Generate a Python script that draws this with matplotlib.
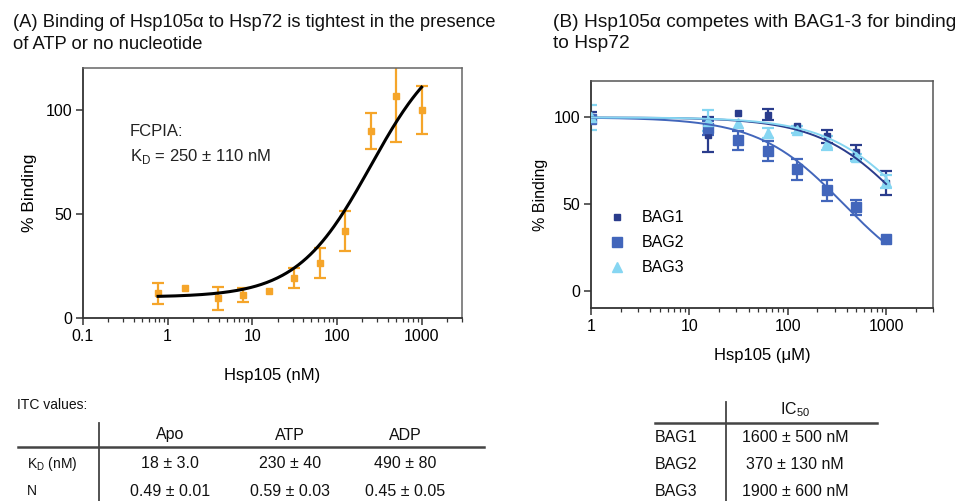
# -*- coding: utf-8 -*-
import numpy as np
import matplotlib.pyplot as plt
from matplotlib import ticker
from matplotlib.lines import Line2D

plt.rcParams['font.family'] = ['Liberation Sans', 'DejaVu Sans']

W, H = 979, 501

# (A) FCPIA titration of Hsp105a into Hsp72
hsp105_nm = [0.77, 1.6, 3.9, 7.8, 15.6, 31.25, 62.5, 125, 250, 500, 1000]
binding_a = [11.9, 14.3, 9.5, 11.0, 13.0, 19.0, 26.3, 42.0, 89.6, 106.4, 100.0]
binding_a_err = [5.0, 0, 5.5, 3.5, 0, 4.8, 7.2, 9.6, 8.7, 22.0, 11.6]
fit_bottom, fit_top = 10, 136
kd_nm, kd_err = 250, 110

# ITC table
itc_conditions = ['Apo', 'ATP', 'ADP']
itc_kd = ['18 ± 3.0', '230 ± 40', '490 ± 80']
itc_n = ['0.49 ± 0.01', '0.59 ± 0.03', '0.45 ± 0.05']

# (B) competition of Hsp105 with BAG1-3
hsp105_um = [1, 15.6, 31.25, 62.5, 125, 250, 500, 1000]
bag_names = ['BAG1', 'BAG2', 'BAG3']
bag_binding = [
    [100, 90, 102.5, 101.6, 95, 89, 80, 62],
    [99, 94, 86.7, 80.6, 70, 58, 48, 29.6],
    [100, 98, 96.8, 91, 93, 85, 77, 63],
]
bag_err = [
    [3, 10, 0, 3, 0, 4, 4, 7],
    [2, 4, 5.3, 5.7, 6, 6, 4.3, 0],
    [7, 6, 0, 3, 2, 4, 2, 4],
]
ic50_nm = [1600, 370, 1900]
ic50_err = [500, 130, 600]

ORANGE = '#f5a52a'
BAG_COLORS = ['#2a3c8c', '#4266bb', '#86d6f2']
BAG_MARKERS = [('s', 4), ('s', 7), ('^', 7)]
SPINE = '#333333'


def px(x, y):
    """pixel position -> figure fraction"""
    return x / W, 1 - y / H


def _style_axes(ax, side_color):
    for s in ['left', 'bottom']:
        ax.spines[s].set_color(SPINE)
        ax.spines[s].set_linewidth(1.3)
    for s in ['top', 'right']:
        ax.spines[s].set_color(side_color)
        ax.spines[s].set_linewidth(1.1)
    ax.tick_params(which='major', direction='out', length=5, width=1.1, color=SPINE,
                   labelsize=11.5, pad=3, top=False, right=False)
    ax.tick_params(which='minor', direction='out', length=3, width=0.9, color=SPINE,
                   top=False, right=False)
    ax.xaxis.set_major_formatter(ticker.FuncFormatter(lambda v, p: f'{v:g}'))
    ax.xaxis.set_minor_formatter(ticker.NullFormatter())


def _panel_a(fig):
    ax = fig.add_axes([83 / W, 1 - 318 / H, 379 / W, 250 / H])
    ax.set_xscale('log')
    ax.set(xlim=[0.1, 3000], ylim=[0, 120])
    ax.set_yticks([0, 50, 100])
    ax.xaxis.set_major_locator(ticker.LogLocator(base=10, numticks=10))
    ax.xaxis.set_minor_locator(ticker.LogLocator(base=10, subs=np.arange(2, 10), numticks=10))
    _style_axes(ax, '#666666')

    x = np.array(hsp105_nm)
    y = np.array(binding_a)
    e = np.array(binding_a_err)
    has_err = e > 0
    ax.errorbar(x[has_err], y[has_err], yerr=e[has_err], fmt='none', ecolor=ORANGE,
                elinewidth=1.6, capsize=4.5, capthick=1.6, zorder=2)
    ax.plot(x, y, 's', color=ORANGE, markersize=5, zorder=3)

    # one-site binding fit
    xf = np.logspace(np.log10(x[0]), np.log10(x[-1]), 200)
    yf = fit_bottom + (fit_top - fit_bottom) * xf / (xf + kd_nm)
    ax.plot(xf, yf, color='black', linewidth=2.2, zorder=4)

    ax.text(0.124, 0.745, 'FCPIA:', transform=ax.transAxes, fontsize=12, color='#222222', va='center')
    ax.text(0.124, 0.645, f'K$_\\mathregular{{D}}$ = {kd_nm} ± {kd_err} nM', transform=ax.transAxes,
            fontsize=12, color='#222222', va='center')

    ax.set_xlabel('Hsp105 (nM)', fontsize=12, labelpad=17)
    ax.set_ylabel('% Binding', fontsize=12.5, labelpad=6)
    return ax


def _panel_b(fig):
    ax = fig.add_axes([591 / W, 1 - 308 / H, 342 / W, 227 / H])
    ax.set_xscale('log')
    ax.set(xlim=[1, 3000], ylim=[-10, 121])
    ax.set_yticks([0, 50, 100])
    ax.xaxis.set_major_locator(ticker.LogLocator(base=10, numticks=10))
    ax.xaxis.set_minor_locator(ticker.LogLocator(base=10, subs=np.arange(2, 10), numticks=10))
    _style_axes(ax, '#555555')

    x = np.array(hsp105_um)
    xf = np.logspace(0, 3, 200)
    for vals, errs, ic50, c, (m, ms) in zip(bag_binding, bag_err, ic50_nm, BAG_COLORS, BAG_MARKERS):
        y = np.array(vals)
        e = np.array(errs)
        has_err = e > 0
        ax.errorbar(x[has_err], y[has_err], yerr=e[has_err], fmt='none', ecolor=c,
                    elinewidth=1.6, capsize=4, capthick=1.6, zorder=2)
        ax.plot(x, y, m, color=c, markersize=ms, zorder=3)
        ax.plot(xf, 100 / (1 + xf / ic50), color=c, linewidth=1.4, zorder=4)

    handles = [Line2D([], [], linestyle='none', marker=m, markersize=ms, color=c)
               for c, (m, ms) in zip(BAG_COLORS, BAG_MARKERS)]
    ax.legend(handles, bag_names, loc='upper left', bbox_to_anchor=(0.04, 0.43),
              frameon=False, fontsize=11.5, borderpad=0, borderaxespad=0,
              handlelength=1.6, handletextpad=0.7, labelspacing=0.62)

    ax.set_xlabel('Hsp105 (μM)', fontsize=12, labelpad=10)
    ax.set_ylabel('% Binding', fontsize=11.5, labelpad=4)
    return ax


def _tables(fig):
    txt = dict(fontsize=11.5, color='#111111', va='center')

    fig.text(*px(17, 405), 'ITC values:', fontsize=10, color='#111111', va='center')
    fig.add_artist(Line2D([18 / W, 484 / W], [1 - 447 / H] * 2, color='#444444', linewidth=1.8))
    fig.add_artist(Line2D([99 / W] * 2, [1 - 423 / H, 0], color='#444444', linewidth=1.3))
    cols = [170, 290, 405]
    for cx, name, kd, n in zip(cols, itc_conditions, itc_kd, itc_n):
        fig.text(*px(cx, 435), name, ha='center', **txt)
        fig.text(*px(cx, 464), kd, ha='center', **txt)
        fig.text(*px(cx, 491), n, ha='center', **txt)
    fig.text(*px(27, 464), 'K$_\\mathregular{D}$ (nM)', ha='left', fontsize=10, color='#111111', va='center')
    fig.text(*px(27, 491), 'N', ha='left', fontsize=10, color='#111111', va='center')

    fig.add_artist(Line2D([655 / W, 877 / W], [1 - 423 / H] * 2, color='#444444', linewidth=1.8))
    fig.add_artist(Line2D([726 / W] * 2, [1 - 402 / H, 0], color='#444444', linewidth=1.3))
    fig.text(*px(795, 410), 'IC$_\\mathregular{50}$', ha='center', **txt)
    for i, (name, v, e) in enumerate(zip(bag_names, ic50_nm, ic50_err)):
        y = 438 + i * 26.5
        fig.text(*px(655, y), name, ha='left', **txt)
        fig.text(*px(795, y), f'{v} ± {e} nM', ha='center', **txt)


def make_figure(path='out.png'):
    fig = plt.figure(figsize=(W / 100, H / 100), dpi=100)

    fig.text(*px(13, 14), '(A) Binding of Hsp105α to Hsp72 is tightest in the presence\nof ATP or no nucleotide',
             fontsize=13.2, color='#111111', va='top', linespacing=1.38)
    fig.text(*px(553, 14), '(B) Hsp105α competes with BAG1-3 for binding\nto Hsp72',
             fontsize=13.8, color='#111111', va='top', linespacing=1.32)

    _panel_a(fig)
    _panel_b(fig)
    _tables(fig)

    fig.savefig(path, dpi=100)


if __name__ == '__main__':
    make_figure()
